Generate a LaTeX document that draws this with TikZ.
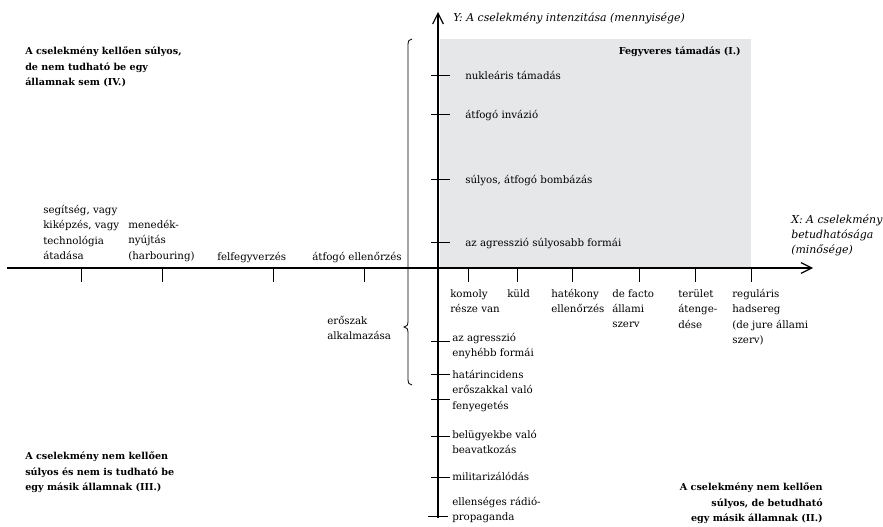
\documentclass[tikz,border=0pt]{standalone}
\usepackage{fontspec}
\setmainfont{DejaVu Serif}
\usetikzlibrary{arrows.meta,positioning}
\tikzset{>={Straight Barb[length=8pt,width=8pt]}}
\definecolor{quadgray}{RGB}{230,231,232}
\newcommand{\lblfont}{\fontsize{7.7}{11.6}\selectfont}
\newcommand{\quadfont}{\fontsize{7.2}{11.6}\selectfont\bfseries}
\newcommand{\axfont}{\fontsize{8.2}{11.6}\selectfont\itshape}

\begin{document}
\begin{tikzpicture}[
    x=0.75pt, y=-0.75pt,
    axis/.style={draw, line width=0.9pt, ->},
    tick/.style={draw, line width=0.75pt},
    brace/.style={draw, line width=0.6pt},
    lbl/.style={inner sep=0pt, align=left, anchor=north west, font=\lblfont},
    lblr/.style={inner sep=0pt, align=right, anchor=north east, font=\lblfont},
    quad/.style={lbl, font=\quadfont},
    quadr/.style={lblr, font=\quadfont},
    axlbl/.style={lbl, font=\axfont}
  ]
  \useasboundingbox (0,0) rectangle (883,527);
  \fill[quadgray] (440,39) rectangle (751,267);

  \coordinate (xstart) at (7,268);
  \coordinate (xend) at (813,268);
  \coordinate (ystart) at (438,518);
  \coordinate (yend) at (438,12);
  \draw[axis] (xstart) -- (xend);
  \draw[axis] (ystart) -- (yend);

  % ticks on X
  \draw[tick] (81,268) -- (81,282);
  \draw[tick] (162,268) -- (162,282);
  \draw[tick] (273,268) -- (273,282);
  \draw[tick] (364,268) -- (364,282);
  \draw[tick] (468,268) -- (468,282);
  \draw[tick] (517,268) -- (517,282);
  \draw[tick] (572,268) -- (572,282);
  \draw[tick] (639,268) -- (639,282);
  \draw[tick] (695,268) -- (695,282);
  \draw[tick] (751,268) -- (751,282);

  % ticks on Y
  \draw[tick] (431,76) -- (450,76);
  \draw[tick] (431,115) -- (450,115);
  \draw[tick] (431,180) -- (450,180);
  \draw[tick] (431,243) -- (450,243);
  \draw[tick] (431,342) -- (450,342);
  \draw[tick] (431,375) -- (450,375);
  \draw[tick] (431,400) -- (450,400);
  \draw[tick] (431,437) -- (450,437);
  \draw[tick] (431,478) -- (450,478);
  \draw[tick] (428,517) -- (448,517);

  \draw[brace] (412,39) .. controls (409,39) and (408,41) .. (408,45)
    -- (408,321) .. controls (408,325) and (407,327) .. (404,327)
    .. controls (407,327) and (408,329) .. (408,333)
    -- (408,379) .. controls (408,383) and (409,385) .. (412,385);

  \node[quad] (qIV) at (25,47) {A cselekmény kellően súlyos,\\de nem tudható be egy\\államnak sem (IV.)};
  \node[quad] (qIII) at (25,452) {A cselekmény nem kellően\\súlyos és nem is tudható be\\egy másik államnak (III.)};
  \node[quadr] (qII) at (823,483) {A cselekmény nem kellően\\súlyos, de betudható\\egy másik államnak (II.)};
  \node[quadr] (qI) at (741,47) {Fegyveres támadás (I.)};

  \node[axlbl] (ylabel) at (453,12) {Y: A cselekmény intenzitása (mennyisége)};
  \node[axlbl] (xlabel) at (791,214) {X: A cselekmény\\betudhatósága\\(minősége)};

  \node[lbl] (nuklearis) at (465,71) {nukleáris támadás};
  \node[lbl] (invazio) at (465,110) {átfogó invázió};
  \node[lbl] (bombazas) at (465,175) {súlyos, átfogó bombázás};
  \node[lbl] (sulyosabb) at (465,238) {az agresszió súlyosabb formái};

  \node[lbl] (enyhebb) at (452,333) {az agresszió\\enyhébb formái};
  \node[lbl] (hatar) at (452,370) {határincidens\\erőszakkal való\\fenyegetés};
  \node[lbl] (belugy) at (452,430) {belügyekbe való\\beavatkozás};
  \node[lbl] (milit) at (452,472) {militarizálódás};
  \node[lbl] (radio) at (452,497) {ellenséges rádió-\\propaganda};

  \node[lbl] (segitseg) at (43,205) {segítség, vagy\\kiképzés, vagy\\technológia\\átadása};
  \node[lbl] (menedek) at (128,220) {menedék-\\nyújtás\\(harbouring)};
  \node[lbl] (felfegy) at (217,252) {felfegyverzés};
  \node[lbl] (atfogo) at (312,252) {átfogó ellenőrzés};
  \node[lbl] (eroszak) at (327,316) {erőszak\\alkalmazása};

  \node[lbl] (komoly) at (450,289) {komoly\\része van};
  \node[lbl] (kuld) at (507,289) {küld};
  \node[lbl] (hatekony) at (551,289) {hatékony\\ellenőrzés};
  \node[lbl] (defacto) at (612,289) {de facto\\állami\\szerv};
  \node[lbl] (terulet) at (678,289) {terület\\átenge-\\dése};
  \node[lbl] (regularis) at (732,289) {reguláris\\hadsereg\\(de jure állami\\szerv)};
\end{tikzpicture}
\end{document}
